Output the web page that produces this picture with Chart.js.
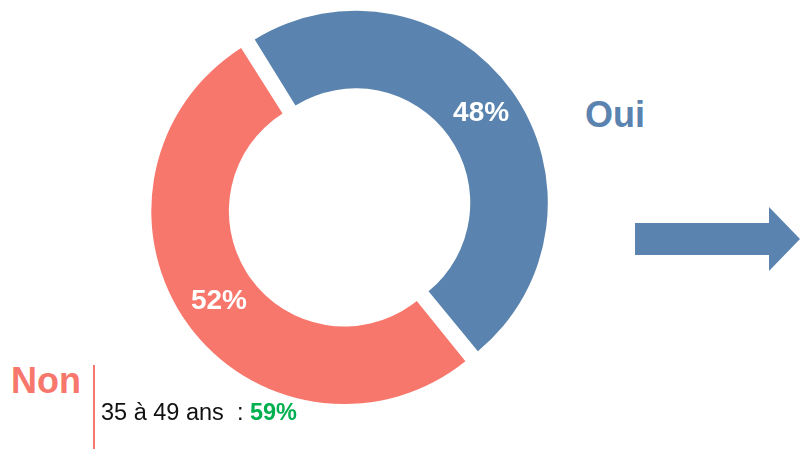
<!DOCTYPE html>
<html>
<head>
<meta charset="utf-8">
<script src="https://cdn.jsdelivr.net/npm/chart.js@4"></script>
<style>
  body { margin: 0; background: #fff; }
  #wrap { position: relative; width: 800px; height: 449px; overflow: hidden; font-family: "Liberation Sans", Arial, sans-serif; }
  #donut { position: absolute; left: 150px; top: 6.5px; }
  .big { position: absolute; font-weight: bold; font-size: 36px; line-height: 36px; white-space: nowrap; }
  #oui { left: 585px; top: 96.5px; color: #5A84AF; }
  #non { left: 11px; top: 362.5px; color: #F8776C; }
  #bar { position: absolute; left: 93px; top: 365px; width: 2px; height: 84px; background: #F8776C; }
  #detail { position: absolute; left: 101px; top: 401px; font-size: 23.5px; line-height: 23.5px; color: #111; white-space: nowrap; }
  #detail b { color: #00B050; }
  #arrow { position: absolute; left: 0; top: 0; }
</style>
</head>
<body>
<div id="wrap">
  <canvas id="donut" width="400" height="400"></canvas>
  <div id="oui" class="big"></div>
  <div id="non" class="big"></div>
  <div id="bar"></div>
  <div id="detail"></div>
  <svg id="arrow" width="800" height="449">
    <polygon points="635,223 769,223 769,207 800,239 769,271 769,255 635,255" fill="#5A84AF"/>
  </svg>
</div>
<script>
const categories = ['Oui', 'Non'];
const values = [48, 52];
const colors = ['#5A84AF', '#F8776C'];
const detailLabel = '35 à 49 ans';
const detailValue = 59;

document.getElementById('oui').textContent = categories[0];
document.getElementById('non').textContent = categories[1];
document.getElementById('detail').innerHTML = detailLabel + '&nbsp; : <b>' + detailValue + '%</b>';

// write the percentage on each ring segment
const sliceLabels = {
  id: 'sliceLabels',
  afterDatasetsDraw(chart) {
    const c = chart.ctx;
    const meta = chart.getDatasetMeta(0);
    c.save();
    c.fillStyle = '#fff';
    c.font = 'bold 28px "Liberation Sans", Arial, sans-serif';
    c.textAlign = 'center';
    c.textBaseline = 'middle';
    meta.data.forEach((arc, i) => {
      const p = arc.tooltipPosition();
      c.fillText(values[i] + '%', p.x, p.y);
    });
    c.restore();
  }
};

const ctx = document.getElementById('donut').getContext('2d');
new Chart(ctx, {
  type: 'doughnut',
  data: {
    labels: categories,
    datasets: [{
      data: values,
      backgroundColor: colors,
      borderWidth: 0,
      offset: 28
    }]
  },
  options: {
    responsive: false,
    animation: false,
    rotation: -32,
    radius: 186,
    cutout: '58.3%',
    layout: { padding: 0 },
    plugins: {
      legend: { display: false },
      tooltip: { enabled: false }
    },
    events: []
  },
  plugins: [sliceLabels]
});
</script>
</body>
</html>
